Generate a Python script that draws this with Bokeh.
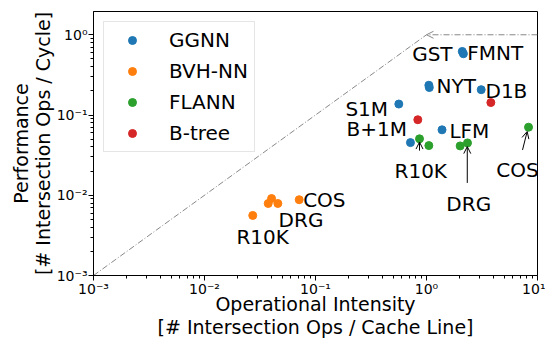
from bokeh.plotting import figure
from bokeh.models import (FixedTicker, CustomJSTickFormatter, Label, Arrow, OpenHead,
                          Range1d, LogAxis)
from bokeh.embed import file_html
from bokeh.resources import INLINE

# ---- data ----
series_names = ["GGNN", "BVH-NN", "FLANN", "B-tree"]
series_colors = ["#1f77b4", "#ff7f0e", "#2ca02c", "#d62728"]

ggnn_x = [2.10, 2.15, 1.05, 1.06, 3.11, 0.563, 1.38, 0.717]
ggnn_y = [0.62, 0.58, 0.235, 0.22, 0.207, 0.137, 0.0654, 0.0453]

bvh_x = [0.0272, 0.0375, 0.0402, 0.0458, 0.0713]
bvh_y = [0.0056, 0.0079, 0.0091, 0.0079, 0.0088]

flann_x = [0.865, 1.05, 2.01, 2.34, 8.30]
flann_y = [0.0505, 0.0416, 0.0412, 0.0449, 0.0705]

btree_x = [0.835, 3.80]
btree_y = [0.0873, 0.143]

# roofline
roof_x = [1e-3, 1.0]
roof_y = [1e-3, 1.0]
peak_perf = 1.0
x_max = 10.0

major_ticks_x = [1e-3, 1e-2, 1e-1, 1.0, 10.0]
major_ticks_y = [1e-3, 1e-2, 1e-1, 1.0]

x_title = ["Operational Intensity", "[# Intersection Ops / Cache Line]"]
y_title = ["[# Intersection Ops / Cycle]", "Performance"]  # inner, outer

# annotations: text, text position (data coords)
label_texts = ["GST", "FMNT", "NYT", "D1B", "S1M", "B+1M", "LFM",
               "R10K", "COS", "DRG", "COS", "DRG", "R10K"]
label_x = [0.743, 2.33, 1.23, 3.40, 0.186, 0.190, 1.61,
           0.515, 4.25, 1.51, 0.0774, 0.0465, 0.0194]
label_y = [0.575, 0.598, 0.229, 0.198, 0.1175, 0.0679, 0.0641,
           0.0202, 0.0208, 0.00778, 0.00873, 0.0049, 0.0030]

# annotation arrows (tail -> tip)
arrow_x0 = [0.865, 2.33, 7.33]
arrow_y0 = [0.036, 0.01425, 0.0367]
arrow_x1 = [0.865, 2.33, 8.07]
arrow_y1 = [0.046, 0.0404, 0.0623]

FONT = "DejaVu Sans"

p = figure(width=545, height=340, x_axis_type="log", y_axis_type="log",
           x_range=Range1d(1e-3, 10), y_range=Range1d(1e-3, 1.95),
           output_backend="svg", toolbar_location=None,
           min_border_left=93, min_border_right=8, min_border_top=11,
           min_border_bottom=0)
p.background_fill_color = "white"
p.border_fill_color = "white"
p.grid.visible = False
p.outline_line_color = "black"
p.outline_line_width = 1

# roofline
p.line(roof_x, roof_y, line_color="#888888", line_width=1, line_dash="6 2 1 2")
p.add_layout(Arrow(end=OpenHead(size=7, line_color="#888888", line_width=1),
                   x_start=x_max, y_start=peak_perf, x_end=roof_x[1], y_end=peak_perf,
                   line_color="#888888", line_width=1, line_dash="6 2 1 2"))

all_x = [ggnn_x, bvh_x, flann_x, btree_x]
all_y = [ggnn_y, bvh_y, flann_y, btree_y]
for name, col, xs, ys in zip(series_names, series_colors, all_x, all_y):
    p.scatter(xs, ys, size=8, color=col, legend_label=name)

for t, lx, ly in zip(label_texts, label_x, label_y):
    p.add_layout(Label(x=lx, y=ly, text=t, text_font=FONT, text_font_size="20px",
                       text_color="black", text_align="left", text_baseline="alphabetic"))

for x0, y0, x1, y1 in zip(arrow_x0, arrow_y0, arrow_x1, arrow_y1):
    p.add_layout(Arrow(end=OpenHead(size=7, line_color="black", line_width=1),
                       x_start=x0, y_start=y0, x_end=x1, y_end=y1,
                       line_color="black", line_width=1))

fmt = CustomJSTickFormatter(code="""
const e = Math.round(Math.log10(tick));
const sup = {"-":"\u207b","0":"\u2070","1":"\u00b9","2":"\u00b2","3":"\u00b3","4":"\u2074","5":"\u2075","6":"\u2076","7":"\u2077","8":"\u2078","9":"\u2079"};
return "10" + String(e).split("").map(c => sup[c]).join("");
""")

def minors(majors, upper):
    out = []
    for m in majors:
        for k in range(2, 10):
            v = m * k
            if v < upper:
                out.append(v)
    return out

p.xaxis.ticker = FixedTicker(ticks=major_ticks_x, minor_ticks=minors(major_ticks_x, 10.0))
p.yaxis.ticker = FixedTicker(ticks=major_ticks_y, minor_ticks=minors(major_ticks_y, 1.95))

AX_FS = "19px"


def style_label(ax):
    ax.axis_label_text_font = FONT
    ax.axis_label_text_font_size = AX_FS
    ax.axis_label_text_font_style = "normal"
    ax.axis_label_text_color = "black"
    ax.axis_label_text_line_height = 1.0


for ax in (p.xaxis, p.yaxis):
    ax.formatter = fmt
    ax.major_label_text_font = FONT
    ax.major_label_text_font_size = "14px"
    ax.major_label_text_color = "black"
    style_label(ax)
    ax.axis_line_color = "black"
    ax.major_tick_line_color = "black"
    ax.minor_tick_line_color = "black"
    ax.major_tick_in = 0
    ax.major_tick_out = 5
    ax.minor_tick_in = 0
    ax.minor_tick_out = 3
    ax.major_label_standoff = 1

p.xaxis.major_label_standoff = 0
p.xaxis.axis_label_standoff = -7
p.yaxis.axis_label_standoff = 0
p.xaxis.axis_label = x_title[0]
p.yaxis.axis_label = y_title[0]


def title_axis(text, standoff):
    a = LogAxis(ticker=FixedTicker(ticks=[]), axis_label=text,
                axis_line_color=None, major_tick_line_color=None, minor_tick_line_color=None,
                major_tick_in=0, major_tick_out=0, minor_tick_in=0, minor_tick_out=0,
                axis_label_standoff=standoff, major_label_standoff=0)
    style_label(a)
    return a


p.add_layout(title_axis(x_title[1], -2), "below")
p.add_layout(title_axis(y_title[1], -3), "left")

lg = p.legend[0]
lg.location = "top_left"
lg.margin = 10
lg.padding = 6
lg.glyph_width = 44
lg.glyph_height = 20
lg.label_height = 20
lg.label_standoff = 15
lg.spacing = 7
lg.label_text_font = FONT
lg.label_text_font_size = "20px"
lg.label_text_color = "black"
lg.border_line_color = "#cccccc"
lg.border_line_width = 1
lg.background_fill_alpha = 0.8

open("out.html", "w").write(file_html(p, INLINE))
